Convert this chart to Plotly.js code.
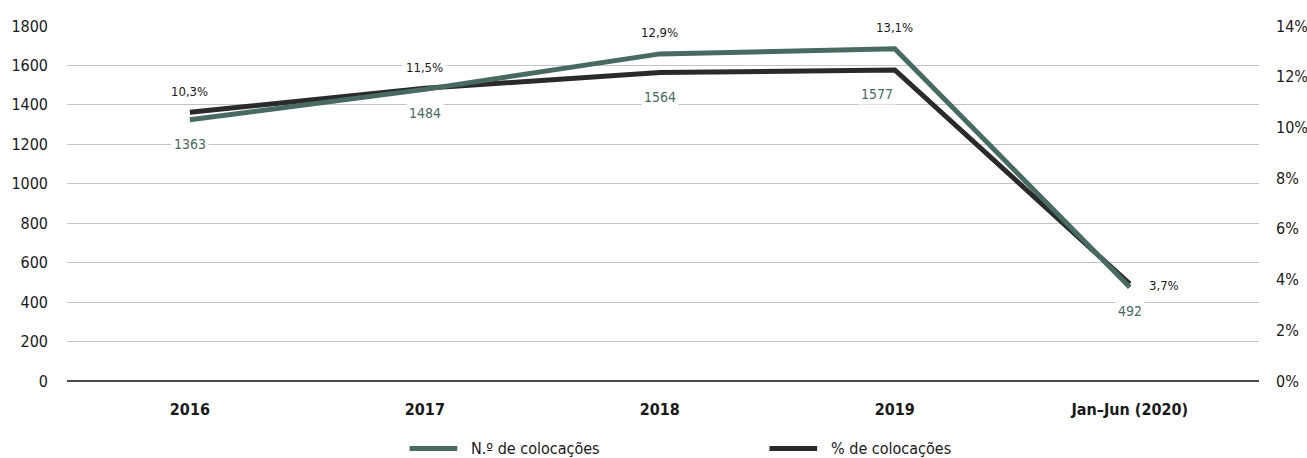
<!DOCTYPE html>
<html>
<head>
<meta charset="utf-8">
<script src="https://cdn.plot.ly/plotly-3.0.1.min.js"></script>
<style>html,body{margin:0;padding:0;background:#fff}#chart{width:1307px;height:458px}</style>
</head>
<body>
<div id="chart"></div>
<script>
const categories = ['2016', '2017', '2018', '2019', 'Jan–Jun (2020)'];
const counts = [1363, 1484, 1564, 1577, 492];
const percents = [10.3, 11.5, 12.9, 13.1, 3.7];
const countLabels = ['1363', '1484', '1564', '1577', '492'];
const percentLabels = ['10,3%', '11,5%', '12,9%', '13,1%', '3,7%'];
const seriesNames = ['N.º de colocações', '% de colocações'];

const FONT = '"Liberation Sans Narrow", "DejaVu Sans Condensed", "Open Sans", sans-serif';
const GREEN = '#496a63';
const BLACK = '#2a2a2a';
const Y1MAX = 1800, Y2MAX = 14;
const countLabelDx = [0, 0, 0, -18, 0];   // label nudges (style only)

const traces = [
  {
    x: categories, y: percents, yaxis: 'y2', type: 'scatter', mode: 'lines',
    name: seriesNames[0], line: {color: GREEN, width: 5}, hoverinfo: 'skip'
  },
  {
    x: categories, y: counts, yaxis: 'y', type: 'scatter', mode: 'lines',
    name: seriesNames[1], line: {color: BLACK, width: 5}, hoverinfo: 'skip'
  }
];

const annotations = [];
categories.forEach((c, i) => {
  const last = i === categories.length - 1;
  const countAsY2 = counts[i] / Y1MAX * Y2MAX;
  const hi = Math.max(countAsY2, percents[i]);
  const lo = Math.min(countAsY2, percents[i]);
  annotations.push({
    x: i, y: lo, xref: 'x', yref: 'y2', text: countLabels[i],
    showarrow: false, yshift: -24, xshift: countLabelDx[i],
    bgcolor: '#fff', borderpad: 2,
    font: {family: FONT, size: 14, color: GREEN}
  });
  annotations.push({
    x: i, y: last ? percents[i] : hi, xref: 'x', yref: 'y2', text: percentLabels[i],
    showarrow: false, yshift: last ? 2 : 21, xshift: last ? 34 : 0,
    bgcolor: '#fff', borderpad: 3,
    font: {family: FONT, size: 13, color: '#1a1a1a'}
  });
});

const legendColors = [GREEN, BLACK];
const legendX = [0.2874, 0.5893];
const legendY = -0.19;
const shapes = [];
seriesNames.forEach((n, k) => {
  shapes.push({
    type: 'line', xref: 'paper', yref: 'paper',
    x0: legendX[k], x1: legendX[k] + 0.04, y0: legendY, y1: legendY,
    line: {color: legendColors[k], width: 5}
  });
  annotations.push({
    xref: 'paper', yref: 'paper', x: legendX[k] + 0.05, y: legendY,
    xanchor: 'left', yanchor: 'middle', showarrow: false, text: n,
    font: {family: FONT, size: 16, color: '#1a1a1a'}
  });
});

const layout = {
  width: 1307, height: 458,
  margin: {l: 67, r: 48, t: 26, b: 77},
  paper_bgcolor: '#fff', plot_bgcolor: '#fff',
  font: {family: FONT, size: 16, color: '#1a1a1a'},
  showlegend: false,
  xaxis: {
    type: 'category', range: [-0.523, 4.55],
    showgrid: false, zeroline: false, showline: false,
    ticks: '', ticklabelstandoff: 17,
    tickfont: {family: FONT, size: 16, color: '#1a1a1a', weight: 'bold'}
  },
  yaxis: {
    range: [0, Y1MAX], dtick: 200, tick0: 0,
    showgrid: true, gridcolor: '#c4c4c4', gridwidth: 1,
    zeroline: true, zerolinecolor: '#4a4a4a', zerolinewidth: 2,
    showline: false, ticks: '', ticklabelstandoff: 18,
    tickfont: {family: FONT, size: 16, color: '#1a1a1a'}
  },
  yaxis2: {
    overlaying: 'y', side: 'right', range: [0, Y2MAX], dtick: 2, tick0: 0,
    showgrid: false, zeroline: false, showline: false, ticks: '',
    ticksuffix: '%', ticklabelstandoff: 16,
    tickfont: {family: FONT, size: 16, color: '#1a1a1a'}
  },
  shapes: shapes,
  annotations: annotations
};

Plotly.newPlot('chart', traces, layout, {displayModeBar: false, staticPlot: true});
</script>
</body>
</html>
